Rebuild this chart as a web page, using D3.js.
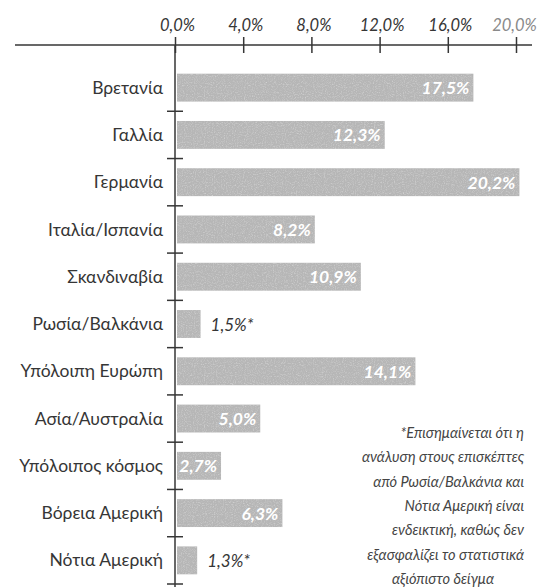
<!DOCTYPE html>
<html>
<head>
<meta charset="utf-8">
<script src="https://cdn.jsdelivr.net/npm/d3@7"></script>
<style>
  html, body { margin: 0; padding: 0; background: #fff; }
  svg { display: block; font-family: Lato, "Open Sans", sans-serif; }
</style>
</head>
<body>
<svg id="chart" width="539" height="587"></svg>
<script>
// ---- data ----
const categories = ["Βρετανία", "Γαλλία", "Γερμανία", "Ιταλία/Ισπανία", "Σκανδιναβία",
  "Ρωσία/Βαλκάνια", "Υπόλοιπη Ευρώπη", "Ασία/Αυστραλία", "Υπόλοιπος κόσμος",
  "Βόρεια Αμερική", "Νότια Αμερική"];
const values = [17.5, 12.3, 20.2, 8.2, 10.9, 1.5, 14.1, 5.0, 2.7, 6.3, 1.3];
const valueLabels = ["17,5%", "12,3%", "20,2%", "8,2%", "10,9%", "1,5%*", "14,1%",
  "5,0%", "2,7%", "6,3%", "1,3%*"];
const outsideLabel = [false, false, false, false, false, true, false, false, false, false, true];
const tickValues = [0, 4, 8, 12, 16, 20];
const tickLabels = ["0,0%", "4,0%", "8,0%", "12,0%", "16,0%", "20,0%"];
const footnote = ["*Επισημαίνεται ότι η", "ανάλυση στους επισκέπτες",
  "από Ρωσία/Βαλκάνια και", "Νότια Αμερική είναι", "ενδεικτική, καθώς δεν",
  "εξασφαλίζει το στατιστικά", "αξιόπιστο δείγμα"];

// ---- layout ----
const svg = d3.select("#chart");
const ink = "#363636";
const x = d3.scaleLinear().domain([0, 20]).range([175, 516]);
const y = d3.scaleBand().domain(categories).range([64, 584]).paddingInner(0.41).paddingOuter(0.205);

// grain texture for bars
const defs = svg.append("defs");
const f = defs.append("filter").attr("id", "grain").attr("x", 0).attr("y", 0).attr("width", 1).attr("height", 1);
f.append("feTurbulence").attr("type", "fractalNoise").attr("baseFrequency", 0.9).attr("numOctaves", 2).attr("seed", 3).attr("result", "noise");
f.append("feColorMatrix").attr("in", "noise").attr("type", "matrix")
  .attr("values", "0 0 0 0 1  0 0 0 0 1  0 0 0 0 1  0.45 0.45 0 0 -0.42").attr("result", "speck");
f.append("feComposite").attr("in", "speck").attr("in2", "SourceGraphic").attr("operator", "in").attr("result", "speckIn");
f.append("feMerge").call(m => { m.append("feMergeNode").attr("in", "SourceGraphic"); m.append("feMergeNode").attr("in", "speckIn"); });

// bars
svg.append("g").selectAll("rect").data(categories).join("rect")
  .attr("x", x(0) + 2)
  .attr("y", d => y(d))
  .attr("width", (d, i) => x(values[i]) - x(0) - 2)
  .attr("height", y.bandwidth())
  .attr("fill", "#b6b6b6")
  .attr("filter", "url(#grain)");

// value labels
svg.append("g").selectAll("text").data(categories).join("text")
  .attr("x", (d, i) => outsideLabel[i] ? x(values[i]) + 10 : x(values[i]) - 4)
  .attr("y", d => y(d) + y.bandwidth() / 2 + 6.5)
  .attr("text-anchor", (d, i) => outsideLabel[i] ? "start" : "end")
  .attr("font-style", "italic")
  .attr("font-weight", (d, i) => outsideLabel[i] ? "normal" : "bold")
  .attr("font-size", (d, i) => outsideLabel[i] ? 17 : 17.5)
  .attr("fill", (d, i) => outsideLabel[i] ? ink : "#ffffff")
  .text((d, i) => valueLabels[i]);

// top axis
const xAxis = d3.axisTop(x).tickValues(tickValues)
  .tickFormat((d, i) => tickLabels[i]).tickSize(8).tickSizeOuter(0);
const gx = svg.append("g").attr("transform", "translate(0,45)").call(xAxis);
gx.select(".domain").remove();
gx.selectAll(".tick line").attr("y1", -8).attr("y2", 8).attr("stroke", ink).attr("stroke-width", 1.5);
gx.selectAll(".tick text").attr("x", (d, i) => i === tickValues.length - 1 ? -2 : 2)
  .attr("y", -14).attr("dy", 0)
  .attr("font-style", "italic").attr("font-size", 16.5).attr("font-family", "Lato, sans-serif")
  .attr("fill", (d, i) => i === tickValues.length - 1 ? "#8a8a8a" : ink);
gx.append("line").attr("x1", 15).attr("x2", 532).attr("y1", 0).attr("y2", 0)
  .attr("stroke", ink).attr("stroke-width", 1.5);

// left axis (category labels)
const yAxis = d3.axisLeft(y).tickSize(0).tickPadding(12);
const gy = svg.append("g").attr("transform", `translate(${x(0)},0)`).call(yAxis);
gy.select(".domain").remove();
gy.selectAll(".tick text").attr("font-size", 17.5).attr("font-family", "Lato, sans-serif")
  .attr("fill", ink).attr("dy", "0.35em");
gy.append("line").attr("x1", 0).attr("x2", 0).attr("y1", 45).attr("y2", 587)
  .attr("stroke", ink).attr("stroke-width", 1.5);
// boundary ticks
gy.selectAll(".bt").data(categories).join("line").attr("class", "bt")
  .attr("x1", -8).attr("x2", 8)
  .attr("y1", d => y(d) + y.step() - (y.step() - y.bandwidth()) / 2)
  .attr("y2", d => y(d) + y.step() - (y.step() - y.bandwidth()) / 2)
  .attr("stroke", ink).attr("stroke-width", 1.5);

// footnote
svg.append("g").selectAll("text").data(footnote).join("text")
  .attr("x", (d, i) => i === footnote.length - 1 ? 443 : 524)
  .attr("y", (d, i) => 438 + i * 24.3)
  .attr("text-anchor", (d, i) => i === footnote.length - 1 ? "middle" : "end")
  .attr("font-style", "italic")
  .attr("font-size", 14.6)
  .attr("fill", "#444")
  .text(d => d);
</script>
</body>
</html>
